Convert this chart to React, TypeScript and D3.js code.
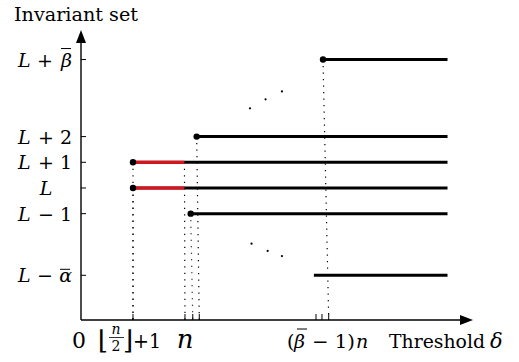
import React from 'react';
import * as d3 from 'd3';

// levels on the vertical axis (L = 0); levelBars marks a symbol that wears an overline
const levelSigns = ['+', '+', '+', '', '−', '−'];
const levelRight = ['β', '2', '1', '', '1', 'α'];
const levelBars = [true, false, false, false, false, true];
const levelValues = [5, 2, 1, 0, -1, -3.4];

// each horizontal segment: level, where it starts, where its dotted guide hits the axis
const segLevels = [5, 2, 1, 0, -1, -3.4];
const segStarts = [9.31, 4.45, 2, 2, 4.22, 8.96];
const segGuides = [9.53, 4.55, 2, 2, 4.3, null];
const segDots = [true, true, true, true, true, false];
const redEnds = [null, null, 3.98, 3.98, null, null];
const segEnd = 14.1;

// small ticks on the threshold axis, plus the second guide of the red parts
const xTicks = [2, 4.0, 4.3, 4.55, 9.04, 9.27, 9.53];
const redGuide = 4.0;

// the two ellipses
const dotsUp = [[6.5, 3.1], [7.1, 3.45], [7.73, 3.76]];
const dotsDown = [[6.56, -2.17], [7.18, -2.45], [7.73, -2.65]];

const W = 519;
const H = 362;

export default function App() {
  const x = d3.scaleLinear().domain([0, 15.08]).range([81, 473]);
  const y = d3.scaleLinear().domain([-5.14, 6.15]).range([320, 30]);
  const x0 = x(0);
  const y0 = y(-5.14);
  const dotted = { stroke: '#000', strokeWidth: 1.2, strokeDasharray: '1.2,5.3' };

  return (
    <svg width={W} height={H} style={{ position: 'absolute', left: 0, top: 0 }} fontFamily="DejaVu Serif, serif">
      <rect width={W} height={H} fill="#fff" />

      {/* axes */}
      <line x1={x0} y1={y0} x2={x0} y2={y(6.15) + 10} stroke="#000" strokeWidth={1.4} />
      <path d={`M${x0},${y(6.15)} L${x0 - 5},${y(6.15) + 13} L${x0 + 5},${y(6.15) + 13} Z`} fill="#000" />
      <line x1={x0} y1={y0} x2={x(15.08) - 10} y2={y0} stroke="#000" strokeWidth={1.4} />
      <path d={`M${x(15.08)},${y0} L${x(15.08) - 13},${y0 - 5} L${x(15.08) - 13},${y0 + 5} Z`} fill="#000" />

      {/* y ticks + labels */}
      {levelValues.map((v, i) => {
        const by = y(v) + 7;
        const isL = levelSigns[i] === '';
        return (
          <g key={'yl' + i}>
            <line x1={x0} x2={x0 + 5} y1={y(v)} y2={y(v)} stroke="#000" strokeWidth={1} />
            {isL ? (
              <text x={46} y={by} textAnchor="middle" fontSize={19} fontStyle="italic">L</text>
            ) : (
              <g>
                <text x={18} y={by} fontSize={19} fontStyle="italic">L</text>
                <text x={levelBars[i] ? 45 : 46} y={by} fontSize={19} textAnchor="middle">{levelSigns[i]}</text>
                <text x={72} y={by} fontSize={19} textAnchor="end" fontStyle={levelBars[i] ? 'italic' : 'normal'}>
                  {levelRight[i]}
                </text>
                {levelBars[i] && (
                  <line x1={i === 0 ? 61 : 60} x2={i === 0 ? 71 : 70}
                    y1={y(v) - (i === 0 ? 11 : 6)} y2={y(v) - (i === 0 ? 11 : 6)} stroke="#000" strokeWidth={1} />
                )}
              </g>
            )}
          </g>
        );
      })}

      {/* x ticks */}
      {xTicks.map((t, i) => (
        <line key={'xt' + i} x1={x(t)} x2={x(t)} y1={y0} y2={y0 - 6} stroke="#000" strokeWidth={1} />
      ))}

      {/* dotted guides */}
      {segLevels.map((lv, i) =>
        segGuides[i] === null ? null : (
          <line key={'g' + i} x1={x(segStarts[i])} y1={y(lv)} x2={x(segGuides[i] as number)} y2={y0} style={dotted} />
        )
      )}
      <line x1={x(redEnds[2] as number)} y1={y(1)} x2={x(redGuide)} y2={y0} style={dotted} />

      {/* segments */}
      {segLevels.map((lv, i) => (
        <g key={'s' + i}>
          <line x1={x(segStarts[i])} x2={x(segEnd)} y1={y(lv)} y2={y(lv)} stroke="#000" strokeWidth={3} />
          {redEnds[i] !== null && (
            <line x1={x(segStarts[i])} x2={x(redEnds[i] as number)} y1={y(lv)} y2={y(lv)} stroke="#e3101a" strokeWidth={3} />
          )}
          {segDots[i] && <circle cx={x(segStarts[i])} cy={y(lv)} r={3.2} fill="#000" />}
        </g>
      ))}

      {/* ellipses */}
      {[...dotsUp, ...dotsDown].map((d, i) => (
        <circle key={'e' + i} cx={x(d[0])} cy={y(d[1])} r={1.1} fill="#000" />
      ))}

      {/* title */}
      <text x={14} y={21} fontSize={19} textLength={124} lengthAdjust="spacingAndGlyphs">Invariant set</text>

      {/* x labels */}
      <text x={79} y={348} fontSize={22} textAnchor="middle">0</text>
      <text x={98} y={349} fontSize={26}>⌊</text>
      <text x={116} y={334} fontSize={14} fontStyle="italic" textAnchor="middle">n</text>
      <line x1={109} x2={124} y1={337.5} y2={337.5} stroke="#000" strokeWidth={0.8} />
      <text x={116} y={351} fontSize={14} textAnchor="middle">2</text>
      <text x={123} y={349} fontSize={26}>⌋</text>
      <text x={133} y={348} fontSize={21} textLength={28} lengthAdjust="spacingAndGlyphs">+1</text>
      <text x={185} y={348} fontSize={26} fontStyle="italic" textAnchor="middle">n</text>
      <text x={287} y={348} fontSize={19}>(</text>
      <text x={294} y={348} fontSize={19} fontStyle="italic">β</text>
      <line x1={297} x2={307} y1={329} y2={329} stroke="#000" strokeWidth={1} />
      <text x={312} y={348} fontSize={19} textLength={43} lengthAdjust="spacingAndGlyphs">− 1)</text>
      <text x={356} y={348} fontSize={19} fontStyle="italic">n</text>
      <text x={389} y={348} fontSize={18} textLength={96} lengthAdjust="spacingAndGlyphs">Threshold</text>
      <text x={490} y={348} fontSize={21} fontStyle="italic">δ</text>
    </svg>
  );
}
